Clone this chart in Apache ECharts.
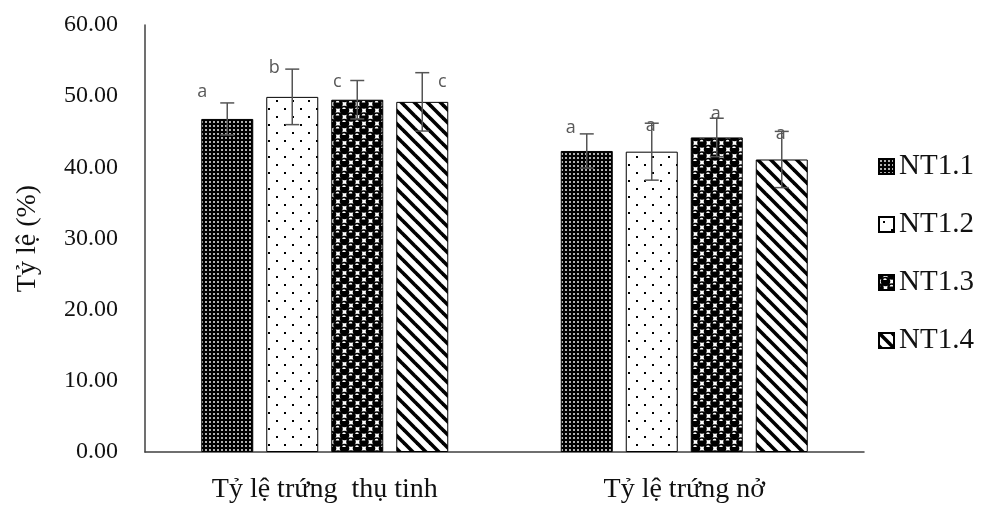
<!DOCTYPE html>
<html>
<head>
<meta charset="utf-8">
<script src="https://cdn.jsdelivr.net/npm/echarts@6/dist/echarts.min.js"></script>
<style>
  html, body { margin: 0; padding: 0; background: #fff; }
  #chart { width: 982px; height: 506px; }
</style>
</head>
<body>
<div id="chart"></div>
<script>
// data
var categories = ['Tỷ lệ trứng  thụ tinh', 'Tỷ lệ trứng nở'];
var seriesNames = ['NT1.1', 'NT1.2', 'NT1.3', 'NT1.4'];
var meanNT11 = [46.8, 42.3];
var meanNT12 = [49.9, 42.2];
var meanNT13 = [49.5, 44.2];
var meanNT14 = [49.2, 41.1];
var errNT11 = [2.25, 2.4];
var errNT12 = [3.9, 4.0];
var errNT13 = [2.7, 2.7];
var errNT14 = [4.1, 3.95];
var lettersNT11 = ['a', 'a'];
var lettersNT12 = ['b', 'a'];
var lettersNT13 = ['c', 'a'];
var lettersNT14 = ['c', 'a'];

var means = [meanNT11, meanNT12, meanNT13, meanNT14];
var errs = [errNT11, errNT12, errNT13, errNT14];
var letters = [lettersNT11, lettersNT12, lettersNT13, lettersNT14];

// where each letter sits relative to the top of its error bar (px), [series][category]
var letterShift = [
    [[-25, -11], [-16, -6]],
    [[-18, -1], [-1, 3]],
    [[-20, 1], [-1, -4]],
    [[20, 9], [-1, 2]]
];

var BAR_W = 52, BAR_STEP = 65;

function makeCanvas(w, h) {
    var c = document.createElement('canvas');
    c.width = w; c.height = h;
    return c;
}

// NT1.1: black with fine light dots
function pat1() {
    var c = makeCanvas(4, 4), g = c.getContext('2d');
    g.fillStyle = '#000'; g.fillRect(0, 0, 4, 4);
    g.fillStyle = '#b0b0b0'; g.fillRect(1, 1, 2, 2);
    return c;
}
// NT1.2: white with sparse black dots
function pat2() {
    var c = makeCanvas(16, 16), g = c.getContext('2d');
    g.fillStyle = '#fff'; g.fillRect(0, 0, 16, 16);
    g.fillStyle = '#000';
    g.fillRect(4, 4, 2, 2);
    g.fillRect(12, 12, 2, 2);
    return c;
}
// NT1.3: black spheres
function pat3() {
    var s = 13, c = makeCanvas(s, s), g = c.getContext('2d');
    g.fillStyle = '#fff'; g.fillRect(0, 0, s, s);
    var pts = [[0, 0], [s, 0], [0, s], [s, s], [s / 2, s / 2]];
    pts.forEach(function (p) {
        g.fillStyle = '#000';
        g.beginPath(); g.arc(p[0], p[1], 4.8, 0, Math.PI * 2); g.fill();
        g.fillStyle = '#fff';
        g.beginPath(); g.arc(p[0] - 0.5, p[1] - 1.5, 1.8, Math.PI, Math.PI * 2); g.fill();
    });
    return c;
}
// NT1.4: wide diagonal stripes
function pat4() {
    var s = 13, c = makeCanvas(s, s), g = c.getContext('2d');
    g.fillStyle = '#fff'; g.fillRect(0, 0, s, s);
    g.strokeStyle = '#000'; g.lineWidth = 3.6;
    [-s, 0, s].forEach(function (o) {
        g.beginPath(); g.moveTo(o - 2, -2); g.lineTo(o + s + 2, s + 2); g.stroke();
    });
    return c;
}
var patterns = [pat1(), pat2(), pat3(), pat4()];

var errData = [];
for (var i = 0; i < seriesNames.length; i++) {
    for (var j = 0; j < categories.length; j++) {
        errData.push([j, i, means[i][j], errs[i][j]]);
    }
}

var series = seriesNames.map(function (name, i) {
    return {
        name: name,
        type: 'bar',
        barWidth: BAR_W,
        barGap: '25%',
        data: means[i],
        itemStyle: {
            color: { image: patterns[i], repeat: 'repeat' },
            borderColor: '#000',
            borderWidth: 1
        },
        emphasis: { disabled: true }
    };
});

series.push({
    name: 'err',
    type: 'custom',
    z: 10,
    data: errData,
    renderItem: function (params, api) {
        var cat = api.value(0), si = api.value(1), m = api.value(2), e = api.value(3);
        var x = api.coord([cat, m])[0] + (si - 1.5) * BAR_STEP;
        var hi = api.coord([cat, m + e])[1];
        var lo = api.coord([cat, m - e])[1];
        var sh = letterShift[si][cat];
        var st = { stroke: '#555', lineWidth: 1.5 };
        return {
            type: 'group',
            children: [
                { type: 'line', shape: { x1: x, y1: hi, x2: x, y2: lo }, style: st },
                { type: 'line', shape: { x1: x - 7, y1: hi, x2: x + 7, y2: hi }, style: st },
                { type: 'line', shape: { x1: x - 7, y1: lo, x2: x + 7, y2: lo }, style: st },
                {
                    type: 'text',
                    x: x + sh[0], y: hi + sh[1],
                    style: {
                        text: letters[si][cat],
                        fill: '#595959',
                        font: '18px "Open Sans"',
                        align: 'center',
                        verticalAlign: 'middle'
                    }
                }
            ]
        };
    }
});

var chart = echarts.init(document.getElementById('chart'));
chart.setOption({
    animation: false,
    backgroundColor: '#fff',
    grid: { left: 145, right: 118, top: 25, bottom: 54, outerBoundsMode: 'none' },
    legend: {
        data: seriesNames,
        orient: 'vertical',
        left: 873,
        top: 147,
        itemWidth: 15,
        itemHeight: 15,
        itemGap: 29,
        icon: 'rect',
        textStyle: { fontFamily: 'Liberation Serif', fontSize: 29, color: '#111' }
    },
    xAxis: {
        type: 'category',
        data: categories,
        axisLine: { lineStyle: { color: '#404040', width: 1.5 } },
        axisTick: { show: false },
        axisLabel: { fontFamily: 'Liberation Serif', fontSize: 28, color: '#111', margin: 24 }
    },
    yAxis: {
        type: 'value',
        min: 0,
        max: 60,
        interval: 10,
        name: 'Tỷ lệ (%)',
        nameLocation: 'middle',
        nameGap: 103,
        nameTextStyle: { fontFamily: 'Liberation Serif', fontSize: 28, color: '#111' },
        axisLine: { show: true, lineStyle: { color: '#404040', width: 1.5 } },
        axisTick: { show: false },
        splitLine: { show: false },
        axisLabel: {
            fontFamily: 'Liberation Serif',
            fontSize: 24,
            color: '#111',
            margin: 27,
            formatter: function (v) { return v.toFixed(2); }
        }
    },
    series: series
});
</script>
</body>
</html>
